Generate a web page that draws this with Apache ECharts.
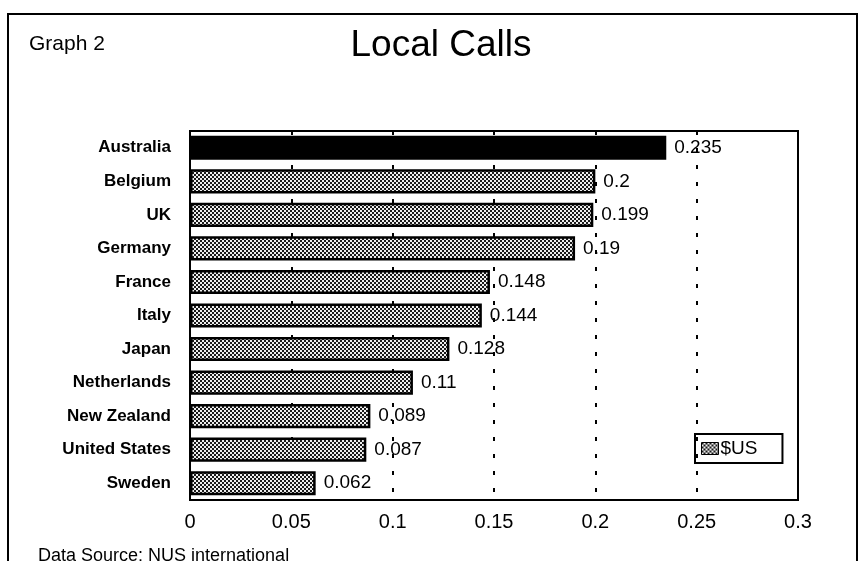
<!DOCTYPE html>
<html>
<head>
<meta charset="utf-8">
<script src="https://cdn.jsdelivr.net/npm/echarts@6/dist/echarts.min.js"></script>
<style>
  html, body { margin: 0; padding: 0; background: #fff; }
  #chart { width: 859px; height: 561px; }
</style>
</head>
<body>
<div id="chart"></div>
<script>
// Local call cost per country, in US dollars
const countries = ['Australia', 'Belgium', 'UK', 'Germany', 'France', 'Italy', 'Japan',
                   'Netherlands', 'New Zealand', 'United States', 'Sweden'];
const costs = [0.235, 0.2, 0.199, 0.19, 0.148, 0.144, 0.128, 0.11, 0.089, 0.087, 0.062];
const tickValues = [0, 0.05, 0.1, 0.15, 0.2, 0.25, 0.3];
const highlighted = 'Australia';

// Fine checker fill used for the bars
function makeChecker() {
  const c = document.createElement('canvas');
  c.width = 4; c.height = 4;
  const g = c.getContext('2d');
  g.fillStyle = '#eeeeee';
  g.fillRect(0, 0, 4, 4);
  g.fillStyle = '#1a1a1a';
  g.fillRect(0, 0, 2, 2);
  g.fillRect(2, 2, 2, 2);
  return c;
}
const checker = { image: makeChecker(), repeat: 'repeat' };

const chart = echarts.init(document.getElementById('chart'), null, { renderer: 'canvas' });
const font = '"Liberation Sans", Arial, Helvetica, sans-serif';

chart.setOption({
  animation: false,
  backgroundColor: '#fff',
  textStyle: { fontFamily: font, color: '#000' },
  title: [
    { text: 'Local Calls', left: 436, top: 22, textAlign: 'center',
      textStyle: { fontSize: 37, fontWeight: 'normal', fontFamily: font, color: '#000' } },
    { text: 'Graph 2', left: 24, top: 29,
      textStyle: { fontSize: 21, fontWeight: 'normal', fontFamily: font, color: '#000' } },
    { text: 'Data Source: NUS international', left: 33, top: 542,
      textStyle: { fontSize: 18, fontWeight: 'normal', fontFamily: font, color: '#000' } }
  ],
  legend: {
    left: 695, top: 434,
    orient: 'horizontal',
    padding: [5, 25, 5, 6],
    borderColor: '#000', borderWidth: 2,
    icon: 'rect', itemWidth: 17, itemHeight: 12, itemGap: 4,
    textStyle: { fontSize: 19, fontFamily: font, color: '#000', padding: [0, 0, 0, -3] },
    data: [{ name: '$US', itemStyle: { color: checker, borderColor: '#000', borderWidth: 1 } }]
  },
  grid: {
    left: 190, top: 131, width: 608, height: 369,
    show: true, borderColor: '#000', borderWidth: 2, backgroundColor: 'transparent'
  },
  xAxis: {
    type: 'value', min: 0, max: 0.3, interval: 0.05,
    axisLine: { show: true, lineStyle: { color: '#000', width: 2 } },
    axisTick: { show: false },
    axisLabel: {
      margin: 12, fontSize: 20, color: '#000', fontFamily: font,
      formatter: v => {
        const m = tickValues.find(t => Math.abs(t - v) < 1e-9);
        return m === undefined ? '' : String(m);
      }
    },
    splitLine: { show: true, lineStyle: { color: '#000', width: 2, type: [4, 13] } }
  },
  yAxis: {
    type: 'category', data: countries, inverse: true,
    axisLine: { show: true, lineStyle: { color: '#000', width: 2 } },
    axisTick: { show: false },
    axisLabel: { margin: 19, fontSize: 17, fontWeight: 'bold', color: '#000', fontFamily: font }
  },
  series: [{
    name: '$US', type: 'bar', barCategoryGap: '28%',
    data: costs.map((v, i) => ({
      value: v,
      itemStyle: countries[i] === highlighted
        ? { color: '#000', borderColor: '#000', borderWidth: 2 }
        : { color: checker, borderColor: '#000', borderWidth: 2.5 }
    })),
    label: {
      show: true, position: 'right', distance: 8,
      fontSize: 19, color: '#000', fontFamily: font,
      formatter: p => String(p.value)
    }
  }],
  graphic: [
    { type: 'polyline', silent: true,
      shape: { points: [[8, 561], [8, 14], [857, 14], [857, 561]] },
      style: { stroke: '#000', lineWidth: 2, fill: null } }
  ]
});
</script>
</body>
</html>
